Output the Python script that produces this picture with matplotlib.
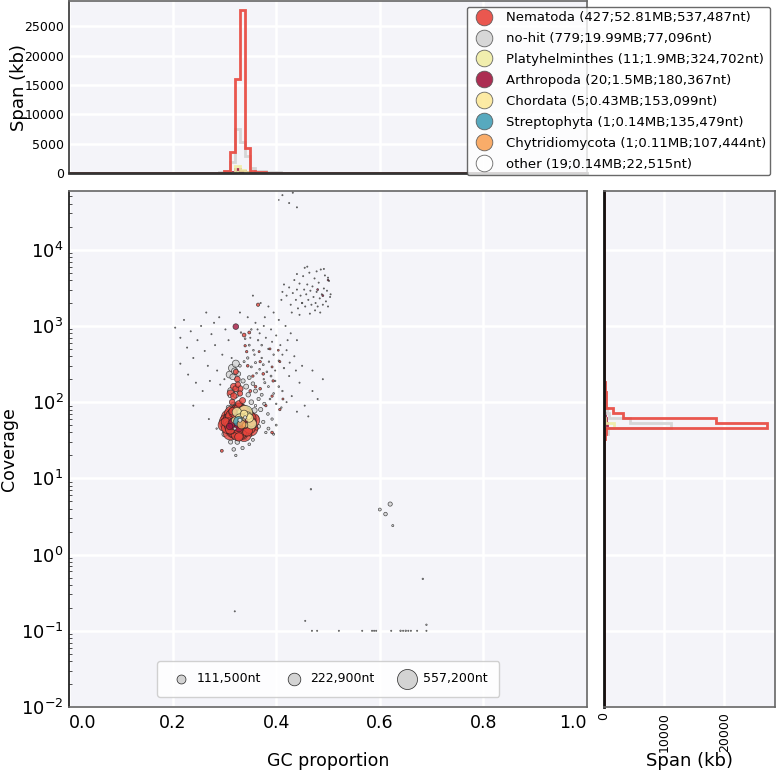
import numpy as np
import matplotlib
matplotlib.use("Agg")
import matplotlib.pyplot as plt
from matplotlib.lines import Line2D

# ---------------- data ----------------
taxa = ["Nematoda", "no-hit", "Platyhelminthes", "Arthropoda", "Chordata",
        "Streptophyta", "Chytridiomycota", "other"]
taxa_labels = ["Nematoda (427;52.81MB;537,487nt)",
               "no-hit (779;19.99MB;77,096nt)",
               "Platyhelminthes (11;1.9MB;324,702nt)",
               "Arthropoda (20;1.5MB;180,367nt)",
               "Chordata (5;0.43MB;153,099nt)",
               "Streptophyta (1;0.14MB;135,479nt)",
               "Chytridiomycota (1;0.11MB;107,444nt)",
               "other (19;0.14MB;22,515nt)"]
taxa_colors = ["#e8453c", "#d3d3d3", "#f0eda5", "#a3163f", "#fde99a",
               "#45a0b8", "#f9a359", "#ffffff"]

# contigs as (GC, coverage, length kb)
nematoda_pts = [
    # outer part of the main blob
    (0.311, 58, 300), (0.314, 49, 260), (0.316, 64, 220), (0.312, 45, 180), (0.317, 43, 250),
    (0.321, 41, 280), (0.325, 42, 310), (0.330, 40, 240), (0.336, 43, 260), (0.341, 46, 300),
    (0.344, 51, 280), (0.347, 58, 240), (0.345, 64, 220), (0.342, 69, 250), (0.338, 71, 230),
    (0.332, 73, 260), (0.326, 72, 240), (0.320, 69, 220), (0.316, 68, 200), (0.314, 62, 200),
    (0.348, 53, 200), (0.349, 46, 180), (0.308, 53, 160), (0.310, 49, 150), (0.319, 74, 170),
    (0.329, 76, 200), (0.338, 76, 160), (0.323, 79, 150), (0.333, 81, 140), (0.328, 83, 130),
    (0.310, 62, 400), (0.335, 70, 420), (0.346, 58, 380), (0.320, 45, 400), (0.330, 50, 450),
    (0.312, 40, 320), (0.338, 38, 300), (0.350, 45, 320), (0.325, 60, 500), (0.342, 65, 360),
    (0.305, 55, 330), (0.316, 70, 380), (0.328, 78, 300), (0.355, 58, 260), (0.300, 50, 220),
    # core of the main blob
    (0.330, 55, 537), (0.324, 50, 490), (0.336, 58, 460), (0.318, 56, 430), (0.340, 50, 410),
    (0.328, 62, 400), (0.322, 46, 380), (0.334, 48, 370), (0.315, 50, 350), (0.342, 60, 340),
    (0.326, 68, 330), (0.320, 62, 320), (0.338, 44, 310), (0.312, 58, 300), (0.332, 40, 290),
    (0.345, 54, 280), (0.317, 42, 270), (0.329, 52, 260), (0.336, 66, 250), (0.308, 52, 240),
    (0.348, 48, 230), (0.325, 38, 220), (0.340, 70, 210), (0.314, 66, 200), (0.331, 75, 190),
    (0.350, 62, 180), (0.305, 46, 170), (0.322, 72, 160), (0.344, 42, 150), (0.327, 45, 150),
    (0.333, 56, 140), (0.319, 53, 130), (0.339, 52, 130), (0.311, 44, 120), (0.353, 55, 110),
    (0.328, 35, 100), (0.302, 55, 100), (0.346, 66, 90), (0.324, 80, 90), (0.316, 76, 80),
    (0.337, 82, 80),
    # above the blob
    (0.318, 160, 60), (0.325, 200, 45), (0.312, 130, 70), (0.330, 150, 55), (0.322, 250, 35),
    (0.322, 150, 50), (0.318, 120, 60), (0.330, 130, 40), (0.326, 170, 40), (0.335, 105, 50),
    (0.315, 100, 45), (0.328, 95, 60),
    # scattered small contigs
    (0.365, 1900, 15), (0.338, 760, 20), (0.348, 820, 12), (0.340, 550, 8), (0.343, 460, 8),
    (0.367, 460, 6), (0.388, 500, 6), (0.404, 480, 5), (0.407, 340, 6), (0.369, 340, 8),
    (0.392, 290, 6), (0.375, 235, 10), (0.394, 190, 8), (0.369, 150, 10), (0.392, 120, 8),
    (0.413, 110, 6), (0.407, 80, 8), (0.392, 40, 10), (0.295, 23, 12), (0.350, 140, 12),
    (0.360, 160, 10), (0.355, 220, 8), (0.345, 300, 10), (0.380, 90, 8), (0.362, 45, 15),
]
nohit_pts = [
    # around the main blob
    (0.315, 280, 77), (0.322, 320, 70), (0.310, 230, 65),
    (0.320, 255, 60), (0.316, 215, 45), (0.327, 235, 30), (0.313, 140, 70), (0.322, 125, 50),
    (0.336, 190, 25), (0.342, 160, 35), (0.348, 210, 20), (0.355, 175, 18), (0.346, 125, 28),
    (0.360, 140, 22), (0.352, 100, 30), (0.366, 110, 15), (0.372, 125, 12), (0.377, 95, 14),
    (0.370, 80, 25), (0.384, 70, 10), (0.358, 78, 40), (0.362, 62, 30), (0.366, 48, 20),
    (0.375, 55, 15), (0.385, 45, 12), (0.392, 60, 8), (0.350, 38, 25), (0.340, 34, 20),
    (0.325, 30, 30), (0.312, 30, 25), (0.300, 38, 35), (0.296, 50, 20), (0.304, 68, 40),
    (0.308, 85, 30), (0.318, 92, 45), (0.355, 32, 12), (0.348, 28, 10), (0.335, 25, 15),
    (0.318, 24, 18), (0.322, 20, 8), (0.380, 40, 8), (0.395, 38, 6), (0.400, 50, 5),
    # sparse cloud above the blob
    (0.330, 300, 10), (0.338, 340, 6), (0.345, 380, 8), (0.352, 290, 5), (0.360, 330, 6),
    (0.368, 270, 4), (0.375, 310, 5), (0.382, 250, 4), (0.390, 220, 5), (0.398, 190, 3),
    (0.405, 160, 4), (0.412, 140, 3), (0.395, 130, 4), (0.385, 160, 5), (0.378, 180, 6),
    (0.388, 110, 4), (0.400, 95, 3), (0.410, 85, 3), (0.420, 100, 2), (0.430, 120, 2),
    (0.440, 75, 2), (0.455, 90, 2), (0.470, 140, 2), (0.462, 65, 2), (0.480, 110, 2),
    (0.445, 180, 2), (0.425, 220, 2), (0.415, 280, 3), (0.405, 350, 3), (0.395, 420, 3),
    (0.385, 500, 3), (0.372, 560, 4), (0.365, 650, 3), (0.356, 480, 4), (0.348, 560, 5),
    (0.340, 680, 4), (0.332, 820, 3), (0.352, 900, 3), (0.368, 800, 2), (0.380, 700, 2),
    (0.392, 620, 2), (0.408, 560, 2), (0.420, 480, 2), (0.435, 400, 2), (0.450, 300, 2),
    (0.470, 260, 2), (0.490, 200, 2), (0.360, 1100, 2), (0.376, 1000, 2), (0.345, 1300, 2),
    (0.330, 1500, 2), (0.390, 900, 2), (0.405, 1200, 2), (0.418, 1000, 2), (0.428, 800, 2),
    (0.440, 650, 2), (0.395, 1500, 2), (0.385, 1800, 2), (0.370, 2000, 2), (0.355, 2500, 2),
    (0.410, 2200, 2), (0.358, 420, 3), (0.372, 380, 3), (0.386, 340, 3), (0.362, 240, 4),
    (0.376, 200, 3), (0.398, 260, 2), (0.412, 420, 2), (0.426, 330, 2), (0.438, 260, 2),
    (0.350, 700, 2), (0.364, 900, 2), (0.378, 1300, 2), (0.400, 750, 2), (0.422, 650, 2),
    # left sparse
    (0.205, 950, 2), (0.215, 700, 2), (0.222, 1200, 2), (0.228, 520, 2), (0.235, 850, 2),
    (0.240, 380, 2), (0.248, 650, 2), (0.255, 1000, 2), (0.262, 470, 2), (0.268, 300, 2),
    (0.275, 780, 2), (0.282, 560, 2), (0.290, 1300, 2), (0.296, 420, 2), (0.302, 900, 2),
    (0.308, 650, 2), (0.314, 380, 2), (0.230, 230, 2), (0.245, 180, 2), (0.258, 140, 2),
    (0.272, 190, 2), (0.286, 260, 2), (0.300, 200, 2), (0.215, 320, 2), (0.265, 1500, 2),
    (0.280, 1100, 2), (0.292, 170, 2), (0.240, 90, 2), (0.270, 60, 2), (0.285, 45, 3),
    # high coverage cluster
    (0.420, 2500, 2), (0.425, 3200, 2), (0.428, 1900, 2), (0.432, 2700, 2), (0.435, 4000, 2),
    (0.438, 2200, 2), (0.440, 3000, 2), (0.442, 1700, 2), (0.445, 3600, 2), (0.447, 2500, 2),
    (0.450, 2000, 2), (0.452, 4500, 2), (0.454, 3000, 2), (0.456, 1800, 2), (0.458, 2600, 2),
    (0.460, 3500, 2), (0.462, 2200, 2), (0.464, 5000, 2), (0.466, 2900, 2), (0.468, 1900, 2),
    (0.470, 3300, 2), (0.472, 2400, 2), (0.474, 4200, 2), (0.476, 2000, 2), (0.478, 2800, 2),
    (0.480, 1800, 2), (0.482, 3700, 2), (0.484, 2300, 2), (0.486, 5500, 2), (0.488, 2600, 2),
    (0.490, 1900, 2), (0.492, 3100, 2), (0.494, 4600, 2), (0.496, 2100, 2), (0.498, 2900, 2),
    (0.500, 1800, 2), (0.502, 3900, 2), (0.504, 2400, 2), (0.455, 5800, 2), (0.475, 1600, 2),
    (0.430, 1500, 2), (0.445, 1400, 2), (0.465, 1450, 2), (0.485, 1500, 2),
    (0.492, 5600, 2), (0.460, 6000, 2), (0.478, 5200, 2), (0.440, 4800, 2), (0.505, 2600, 2),
    (0.500, 4300, 2), (0.415, 3500, 2), (0.412, 2800, 2),
    # very high coverage
    (0.412, 52000, 2), (0.425, 41000, 2), (0.440, 36000, 2), (0.432, 56000, 2), (0.405, 45000, 1),
    # low coverage
    (0.620, 4.6, 25), (0.600, 3.9, 12), (0.611, 3.4, 18), (0.625, 2.4, 6), (0.467, 7.2, 3),
    (0.683, 0.48, 3), (0.456, 0.135, 2), (0.690, 0.12, 3), (0.320, 0.18, 2),
    (0.469, 0.1, 2), (0.479, 0.1, 2), (0.521, 0.1, 2), (0.566, 0.1, 2), (0.585, 0.1, 2),
    (0.589, 0.1, 2), (0.593, 0.1, 2), (0.622, 0.1, 2), (0.640, 0.1, 3), (0.645, 0.1, 2),
    (0.650, 0.1, 3), (0.655, 0.1, 2), (0.660, 0.1, 2), (0.672, 0.1, 2), (0.690, 0.1, 2),
]
platy_pts = [(0.340, 72, 324), (0.352, 52, 150), (0.324, 74, 120), (0.335, 62, 100),
             (0.345, 66, 90), (0.330, 58, 60)]
arthro_pts = [(0.322, 980, 45), (0.318, 52, 180), (0.328, 47, 120), (0.335, 57, 150),
              (0.310, 48, 60), (0.480, 3000, 5), (0.490, 2500, 5), (0.500, 4000, 4)]
chordata_pts = [(0.330, 60, 153), (0.348, 62, 100), (0.338, 70, 80), (0.320, 58, 60),
                (0.340, 50, 40)]
strepto_pts = [(0.326, 57, 135)]
chytrid_pts = [(0.332, 52, 107)]
other_pts = [(0.330, 58, 22), (0.340, 63, 15), (0.310, 120, 10), (0.360, 90, 8),
             (0.450, 2000, 3), (0.320, 45, 12)]
taxa_pts = [nematoda_pts, nohit_pts, platy_pts, arthro_pts, chordata_pts,
            strepto_pts, chytrid_pts, other_pts]

# span (kb) per GC bin (bin left edge, kb)
nematoda_gc_hist = [(0.29, 80), (0.30, 400), (0.31, 3560), (0.32, 16060), (0.33, 27830),
                    (0.34, 4300), (0.35, 300), (0.36, 150), (0.37, 100), (0.38, 60), (0.39, 40)]
nohit_gc_hist = [(0.29, 100), (0.30, 400), (0.31, 1800), (0.32, 7580), (0.33, 5200),
                 (0.34, 2940), (0.35, 800), (0.36, 400), (0.37, 300), (0.38, 200),
                 (0.39, 150), (0.40, 120), (0.41, 80), (0.42, 50), (0.43, 40), (0.44, 40),
                 (0.45, 40), (0.46, 40), (0.47, 30), (0.48, 30), (0.49, 30), (0.50, 20)]
platy_gc_hist = [(0.32, 1250), (0.33, 500), (0.34, 150)]
arthro_gc_hist = [(0.31, 150), (0.32, 700), (0.33, 300), (0.34, 100), (0.48, 60),
                  (0.49, 80), (0.50, 60), (0.51, 50)]
chordata_gc_hist = [(0.32, 150), (0.33, 280)]
strepto_gc_hist = [(0.32, 140)]
chytrid_gc_hist = [(0.33, 110)]
other_gc_hist = [(0.32, 40), (0.33, 60), (0.34, 40)]
taxa_gc_hist = [nematoda_gc_hist, nohit_gc_hist, platy_gc_hist, arthro_gc_hist,
                chordata_gc_hist, strepto_gc_hist, chytrid_gc_hist, other_gc_hist]

# span (kb) per log-coverage bin (bin index of 100, kb)
nematoda_cov_hist = [(52, 100), (53, 300), (54, 27150), (55, 18660), (56, 3140), (57, 1440),
                     (58, 300), (59, 400), (60, 300), (61, 250), (62, 100), (63, 80), (64, 60),
                     (66, 50), (73, 60), (76, 40)]
nohit_cov_hist = [(14, 50), (43, 30), (52, 200), (53, 600), (54, 11200), (55, 4300), (56, 800),
                  (57, 500), (58, 400), (59, 350), (60, 300), (61, 250), (62, 200), (63, 80),
                  (64, 60), (65, 60), (66, 50), (67, 40), (68, 40), (74, 30), (76, 30), (78, 30)]
platy_cov_hist = [(54, 1650), (55, 200)]
arthro_cov_hist = [(54, 500), (55, 400), (56, 200), (73, 80)]
chordata_cov_hist = [(54, 200), (55, 200)]
strepto_cov_hist = [(54, 140)]
chytrid_cov_hist = [(54, 110)]
other_cov_hist = [(55, 60), (56, 50)]
taxa_cov_hist = [nematoda_cov_hist, nohit_cov_hist, platy_cov_hist, arthro_cov_hist,
                 chordata_cov_hist, strepto_cov_hist, chytrid_cov_hist, other_cov_hist]

size_legend_nt = [111500, 222900, 557200]
size_legend_labels = ["111,500nt", "222,900nt", "557,200nt"]

# ---------------- plot ----------------
bg = "#f4f4f9"
cov_min, cov_max = 0.01, 59000
size_scale = 0.372  # marker area (pt^2) per kb

fig = plt.figure(figsize=(7.77, 7.72), dpi=100)
ax = fig.add_axes([0.0888, 0.0842, 0.6667, 0.6684])
ax_top = fig.add_axes([0.0888, 0.7759, 0.6667, 0.2228])
ax_r = fig.add_axes([0.7773, 0.0842, 0.2201, 0.6684])

for a in (ax, ax_top, ax_r):
    a.set_facecolor(bg)
    a.grid(True, color="white", lw=1.8)
    a.set_axisbelow(True)
    for s in a.spines.values():
        s.set_color("#666666")
        s.set_linewidth(1.2)

# scatter: no-hit first, then Nematoda, then the rest on top
order = [1, 0, 2, 3, 4, 5, 6, 7]
for i in order:
    pts = sorted(taxa_pts[i], key=lambda p: -p[2])
    gc = np.array([p[0] for p in pts])
    cov = np.array([p[1] for p in pts])
    kb = np.array([p[2] for p in pts])
    ax.scatter(gc, cov, s=kb * size_scale, c=taxa_colors[i], edgecolors="#222222",
               linewidths=0.5, alpha=0.8, zorder=3)

ax.set_yscale("log")
ax.set_xlim(0, 1)
ax.set_ylim(cov_min, cov_max)
ax.set_xticks([0, 0.2, 0.4, 0.6, 0.8, 1.0])
ax.set_xticklabels(["0.0", "0.2", "0.4", "0.6", "0.8", "1.0"], fontsize=12.5)
xl = ax.get_xticklabels()
xl[0].set_ha("left")
xl[-1].set_ha("right")
ax.set_yticks([1e-2, 1e-1, 1, 1e1, 1e2, 1e3, 1e4])
ax.tick_params(axis="y", which="major", labelsize=13, length=0, pad=4)
ax.tick_params(axis="x", which="major", length=0, pad=5)
ax.tick_params(axis="y", which="minor", direction="in", length=2, color="#333333")
ax.set_xlabel("GC proportion", fontsize=12.5)
ax.xaxis.set_label_coords(0.5, -0.088)
ax.set_ylabel("Coverage", fontsize=12.5)
ax.yaxis.set_label_coords(-0.098, 0.5)
ax.spines["left"].set_color("#111111")

size_handles = [ax.scatter([], [], s=n / 1000 * size_scale, c="#d3d3d3",
                           edgecolors="#222222", linewidths=0.5)
                for n in size_legend_nt]
ax.legend(size_handles, size_legend_labels, loc="lower center", ncol=3,
          bbox_to_anchor=(0.5, 0.008), fontsize=9, columnspacing=1.6,
          handletextpad=0.3, borderpad=0.9, framealpha=0.9, edgecolor="#cccccc")

# top histogram: span per GC bin
gc_edges = np.linspace(0, 1, 101)
for i in reversed(range(len(taxa))):
    vals = np.zeros(100)
    for g, v in taxa_gc_hist[i]:
        vals[int(round(g * 100))] = v
    ax_top.stairs(vals, gc_edges, color=taxa_colors[i], lw=2, alpha=0.9)
ax_top.set_xlim(0, 1)
ax_top.set_ylim(0, 29300)
ax_top.set_xticks([0, 0.2, 0.4, 0.6, 0.8, 1.0])
ax_top.set_xticklabels([])
ax_top.set_yticks([0, 5000, 10000, 15000, 20000, 25000])
ax_top.tick_params(axis="both", length=0, labelsize=9)
ax_top.set_ylabel("Span (kb)", fontsize=13)
ax_top.yaxis.set_label_coords(-0.08, 0.5)
ax_top.spines["bottom"].set_color("#333333")
ax_top.spines["bottom"].set_linewidth(2)
ax_top.spines["left"].set_color("#333333")

# right histogram: span per log coverage bin
cov_edges = np.logspace(np.log10(cov_min), np.log10(cov_max), 101)
for i in reversed(range(len(taxa))):
    vals = np.zeros(100)
    for k, v in taxa_cov_hist[i]:
        vals[k] = v
    ax_r.stairs(vals, cov_edges, orientation="horizontal", color=taxa_colors[i],
                lw=2, alpha=0.9)
ax_r.set_yscale("log")
ax_r.set_ylim(cov_min, cov_max)
ax_r.set_yticks([1e-2, 1e-1, 1, 1e1, 1e2, 1e3, 1e4])
ax_r.set_yticklabels([])
ax_r.set_xlim(0, 28400)
ax_r.set_xticks([0, 10000, 20000])
ax_r.set_xticklabels(["0", "10000", "20000"], rotation=90)
ax_r.tick_params(axis="both", which="both", length=0, labelsize=9)
ax_r.tick_params(axis="y", which="minor", length=0)
ax_r.set_xlabel("Span (kb)", fontsize=13)
ax_r.xaxis.set_label_coords(0.5, -0.088)
ax_r.spines["left"].set_color("#111111")
ax_r.spines["left"].set_linewidth(2)

# taxonomy legend
handles = [Line2D([], [], ls="", marker="o", markersize=12, markerfacecolor=c,
                  markeredgecolor="#555555", markeredgewidth=0.6, alpha=0.9)
           for c in taxa_colors]
fig.legend(handles, taxa_labels, loc="upper right", bbox_to_anchor=(1.0, 1.0),
           fontsize=9.5, labelspacing=0.6, handletextpad=0.6, borderpad=0.35,
           framealpha=0.8, edgecolor="#444444")

fig.savefig("out.png", dpi=100)
